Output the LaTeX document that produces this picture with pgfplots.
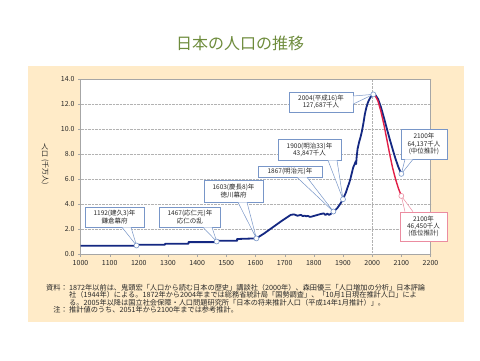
\documentclass[border=0pt]{standalone}
\usepackage{fontspec}
\setmainfont{Noto Sans CJK JP}
\usepackage{pgfplots}
\pgfplotsset{compat=1.18}
\usetikzlibrary{calc}
\definecolor{beige}{RGB}{255,235,200}
\definecolor{navyl}{RGB}{20,40,130}
\definecolor{redl}{RGB}{225,30,70}
\definecolor{callb}{RGB}{120,150,200}
\definecolor{callp}{RGB}{235,140,160}
\definecolor{titleg}{RGB}{110,140,60}
\definecolor{txt}{RGB}{40,40,40}
\tikzset{
  cbox/.style={draw=callb, fill=white, line width=0.6pt, inner sep=0.5pt, align=center,
    font=\fontsize{6.5}{7.2}\selectfont, text=txt},
  cptr/.style={fill=white, draw=callb, line width=0.5pt},
}
\begin{document}
\begin{tikzpicture}[x=1pt,y=1pt]
\fill[white] (0,0) rectangle (480,360);
\fill[beige] (28,38) rectangle (464,294);
\node[text=titleg, font=\fontsize{16}{18}\selectfont] at (240,317) {日本の人口の推移};
% y label
\node[font=\fontsize{7}{7}\selectfont, text=txt, inner sep=0] at (45,213) {人};
\node[font=\fontsize{7}{7}\selectfont, text=txt, inner sep=0] at (45,205.5) {口};
\node[font=\fontsize{7}{7}\selectfont, text=txt, inner sep=0, rotate=-90] at (45,188) {(千万人)};
\begin{axis}[at={(80.5pt,106pt)}, anchor=south west, scale only axis,
  width=350pt, height=175pt,
  xmin=1000, xmax=2200, ymin=0, ymax=14,
  xtick={1000,1100,...,2200}, ytick={0,2,...,14},
  axis background/.style={fill=white},
  axis line style={gray!70},
  tick style={gray!70}, tick align=outside, major tick length=2.5pt,
  xtick pos=bottom, ytick pos=left,
  ymajorgrids, major grid style={densely dotted, gray!60},
  extra x ticks={2000}, extra x tick labels={},
  extra x tick style={grid=major, major tick length=0pt},
  clip=false,
  /pgf/number format/assume math mode=true,
  xticklabel style={font=\fontsize{7}{8}\selectfont, text=txt, /pgf/number format/1000 sep={}},
  yticklabel style={font=\fontsize{7}{8}\selectfont, text=txt, /pgf/number format/fixed, /pgf/number format/fixed zerofill, /pgf/number format/precision=1},
]
% historical
\addplot[navyl, line width=1.8pt, line join=round] coordinates {
(1000,0.66) (1195,0.66) (1195,0.74) (1290,0.74) (1290,0.82) (1370,0.82) (1370,0.95)
(1467,0.95) (1467,1.06) (1537,1.06) (1537,1.20) (1603,1.25)
(1630,1.65) (1660,2.15) (1690,2.65) (1721,3.13) (1732,3.17) (1744,3.06) (1750,3.10)
(1756,3.13) (1762,3.03) (1768,3.07) (1774,3.02) (1780,3.05) (1786,2.97) (1792,2.99)
(1798,3.03) (1804,3.07) (1822,3.19) (1828,3.22) (1834,3.25) (1840,3.12) (1846,3.23)
(1852,3.13) (1858,3.20) (1867,3.40) (1872,3.48) (1880,3.66) (1890,3.99) (1900,4.38)
(1905,4.66) (1910,4.92) (1915,5.28) (1920,5.60) (1925,5.97) (1930,6.45) (1935,6.93)
(1940,7.19) (1944,7.44) (1945,7.20) (1947,7.81) (1950,8.41) (1955,8.93) (1960,9.34)
(1965,9.83) (1970,10.47) (1975,11.19) (1980,11.71) (1985,12.10) (1990,12.36)
(1995,12.56) (2000,12.69) (2004,12.77)
};
% medium projection
\addplot[navyl, line width=1.8pt, line join=round] coordinates {
(2004,12.77) (2010,12.75) (2020,12.41) (2030,11.76) (2040,10.93) (2050,10.06)
(2060,9.20) (2070,8.40) (2080,7.62) (2090,6.95) (2100,6.41)
};
% low projection
\addplot[redl, line width=1.4pt, line join=round] coordinates {
(2004,12.77) (2010,12.69) (2020,12.23) (2030,11.41) (2040,10.38) (2050,9.20)
(2060,8.00) (2070,6.90) (2080,6.00) (2090,5.25) (2100,4.645)
};
% callouts
\node[cbox, minimum width=59pt, minimum height=20pt] (b1) at (axis cs:1116.6,2.96) {1192(建久3)年\\鎌倉幕府};
\filldraw[cptr] ($(b1.south)+(7.5pt,0pt)$) -- (axis cs:1192,0.68) -- ($(b1.south)+(16.5pt,0pt)$);
\node[cbox, minimum width=61pt, minimum height=20pt] (b2) at (axis cs:1375.4,2.96) {1467(応仁元)年\\応仁の乱};
\filldraw[cptr] ($(b2.south)+(13pt,0pt)$) -- (axis cs:1467,1.0) -- ($(b2.south)+(22pt,0pt)$);
\node[cbox, minimum width=59pt, minimum height=22pt] (b3) at (axis cs:1524.6,5.04) {1603(慶長8)年\\徳川幕府};
\filldraw[cptr] ($(b3.south)+(4.5pt,0pt)$) -- (axis cs:1603,1.25) -- ($(b3.south)+(13.5pt,0pt)$);
\node[cbox, minimum width=64pt, minimum height=11pt] (b4) at (axis cs:1718.3,6.6) {1867(明治元)年};
\filldraw[cptr] ($(b4.south)+(7pt,0pt)$) -- (axis cs:1867,3.40) -- ($(b4.south)+(17pt,0pt)$);
\node[cbox, minimum width=63pt, minimum height=21pt] (b5) at (axis cs:1785.1,8.36) {1900(明治33)年\\43,847千人};
\filldraw[cptr] ($(b5.south)+(18.5pt,0pt)$) -- (axis cs:1900,4.38) -- ($(b5.south)+(27.5pt,0pt)$);
\node[cbox, minimum width=64pt, minimum height=20pt] (b6) at (axis cs:1824.6,12.16) {2004(平成16)年\\127,687千人};
\filldraw[cptr] ($(b6.east)+(0pt,6pt)$) -- (axis cs:2004,12.77) -- ($(b6.east)+(0pt,-2pt)$);
\node[cbox, minimum width=46pt, minimum height=30pt] (b7) at (axis cs:2177.7,8.8) {2100年\\64,137千人\\(中位推計)};
\filldraw[cptr] ($(b7.south)+(-19pt,0pt)$) -- (axis cs:2100,6.41) -- ($(b7.south)+(-11pt,0pt)$);
\node[cbox, draw=callp, minimum width=47pt, minimum height=29pt] (b8) at (axis cs:2176,2.2) {2100年\\46,450千人\\(低位推計)};
\filldraw[cptr, draw=callp] ($(b8.north)+(-18.5pt,0pt)$) -- (axis cs:2100,4.645) -- ($(b8.north)+(-10.5pt,0pt)$);
% point markers
\addplot[only marks, mark=*, mark size=2.5pt, mark options={fill=white, draw=callb, line width=0.6pt}] coordinates {
(1192,0.68) (1467,1.0) (1603,1.25) (1867,3.40) (1900,4.38) (2004,12.77) (2100,6.41)
};
\addplot[only marks, mark=*, mark size=2.5pt, mark options={fill=white, draw=callp, line width=0.6pt}] coordinates {
(2100,4.645)
};
\end{axis}
% footnotes
\begin{scope}[every node/.style={inner sep=0, font=\fontsize{7.2}{7.5}\selectfont, text=txt}]
\node[anchor=base east] at (68,70) {資料：};
\node[anchor=base west] at (69,70) {1872年以前は、鬼頭宏「人口から読む日本の歴史」講談社（2000年）、森田優三「人口増加の分析」日本評論};
\node[anchor=base west] at (69,62.5) {社（1944年）による。1872年から2004年までは総務省統計局「国勢調査」、「10月1日現在推計人口」によ};
\node[anchor=base west] at (69,55) {る。2005年以降は国立社会保障・人口問題研究所「日本の将来推計人口（平成14年1月推計）」。};
\node[anchor=base east] at (68,47.5) {注：};
\node[anchor=base west] at (69,47.5) {推計値のうち、2051年から2100年までは参考推計。};
\end{scope}
\end{tikzpicture}
\end{document}
